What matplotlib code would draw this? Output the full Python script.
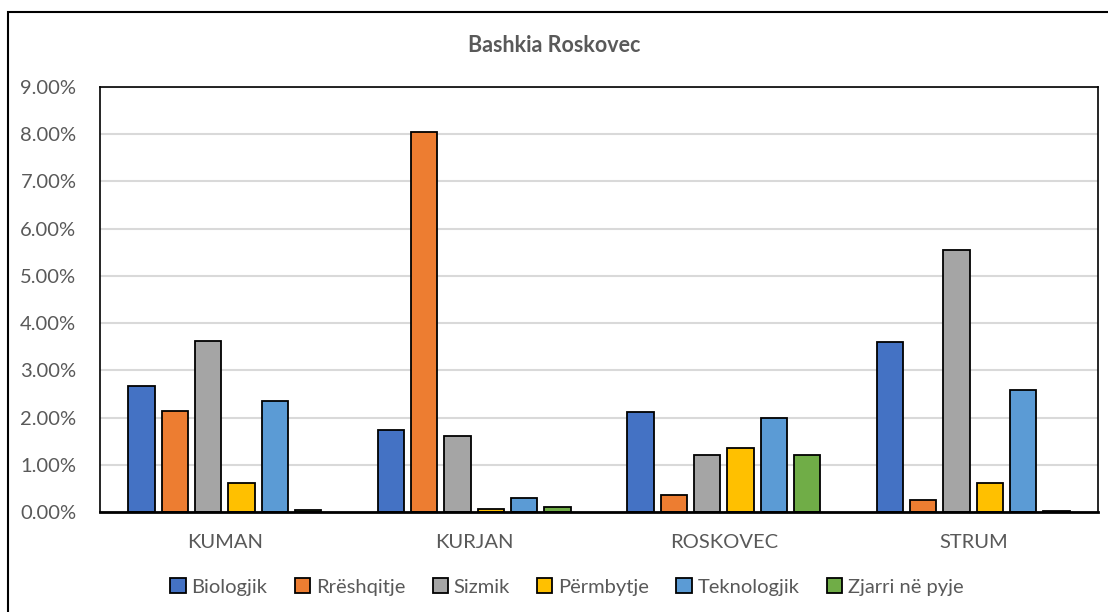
import numpy as np
import matplotlib.pyplot as plt
from matplotlib.patches import Rectangle
from matplotlib.ticker import FuncFormatter

plt.rcParams['font.family'] = ['Lato', 'DejaVu Sans']

# Data (percent)
villages = ['KUMAN', 'KURJAN', 'ROSKOVEC', 'STRUM']
hazards = ['Biologjik', 'Rrëshqitje', 'Sizmik', 'Përmbytje', 'Teknologjik', 'Zjarri në pyje']
biologjik = [2.67, 1.73, 2.11, 3.59]
rreshqitje = [2.14, 8.04, 0.37, 0.25]
sizmik = [3.63, 1.62, 1.21, 5.54]
permbytje = [0.61, 0.06, 1.35, 0.62]
teknologjik = [2.35, 0.29, 1.99, 2.58]
zjarri = [0.04, 0.11, 1.21, 0.03]

series = [biologjik, rreshqitje, sizmik, permbytje, teknologjik, zjarri]
colors = ['#4472C4', '#ED7D31', '#A5A5A5', '#FFC000', '#5B9BD5', '#70AD47']
text_color = '#595959'

fig = plt.figure(figsize=(11.08, 6.12), dpi=100)
ax = fig.add_axes([100 / 1108, 1 - 512 / 612, 998 / 1108, 425 / 612])

x = np.arange(len(villages))
width = 0.105
step = 0.1335
for i, (vals, name, col) in enumerate(zip(series, hazards, colors)):
    offset = (i - 2.5) * step
    ax.bar(x + offset, vals, width, color=col, edgecolor='black',
           linewidth=1.3, label=name, zorder=3)

ax.set_xlim(-0.5, len(villages) - 0.5)
ax.set_ylim(0, 9)
ax.set_yticks(np.arange(0, 9.5, 1))
ax.yaxis.set_major_formatter(FuncFormatter(lambda v, p: f'{v:.2f}%'))
ax.set_xticks(x)
ax.set_xticklabels(villages)
ax.tick_params(axis='both', length=0, labelsize=14.5, labelcolor=text_color)
ax.tick_params(axis='y', pad=17)
ax.tick_params(axis='x', pad=16)
ax.grid(axis='y', color='#d9d9d9', linewidth=1.5, zorder=0)

for side in ['left', 'right', 'top']:
    ax.spines[side].set_linewidth(1.2)
    ax.spines[side].set_color('black')
ax.spines['bottom'].set_linewidth(2)
ax.spines['bottom'].set_zorder(4)

fig.text(0.5, 1 - 46 / 612, 'Bashkia Roskovec', ha='center', va='center',
         fontsize=15.5, fontweight='bold', color=text_color)

fig.legend(loc='center', bbox_to_anchor=(567 / 1108, 1 - 587 / 612), ncol=6,
           frameon=False, fontsize=14.5, labelcolor=text_color,
           handlelength=0.75, handleheight=0.75, handletextpad=0.3,
           columnspacing=1.35)

# outer chart frame (cropped on right and bottom)
fig.patches.append(Rectangle((8 / 1108, -0.1), 1.2, 1 - 12 / 612 + 0.1,
                             transform=fig.transFigure, fill=False,
                             edgecolor='black', linewidth=1.5))

fig.savefig('out.png', dpi=100)
